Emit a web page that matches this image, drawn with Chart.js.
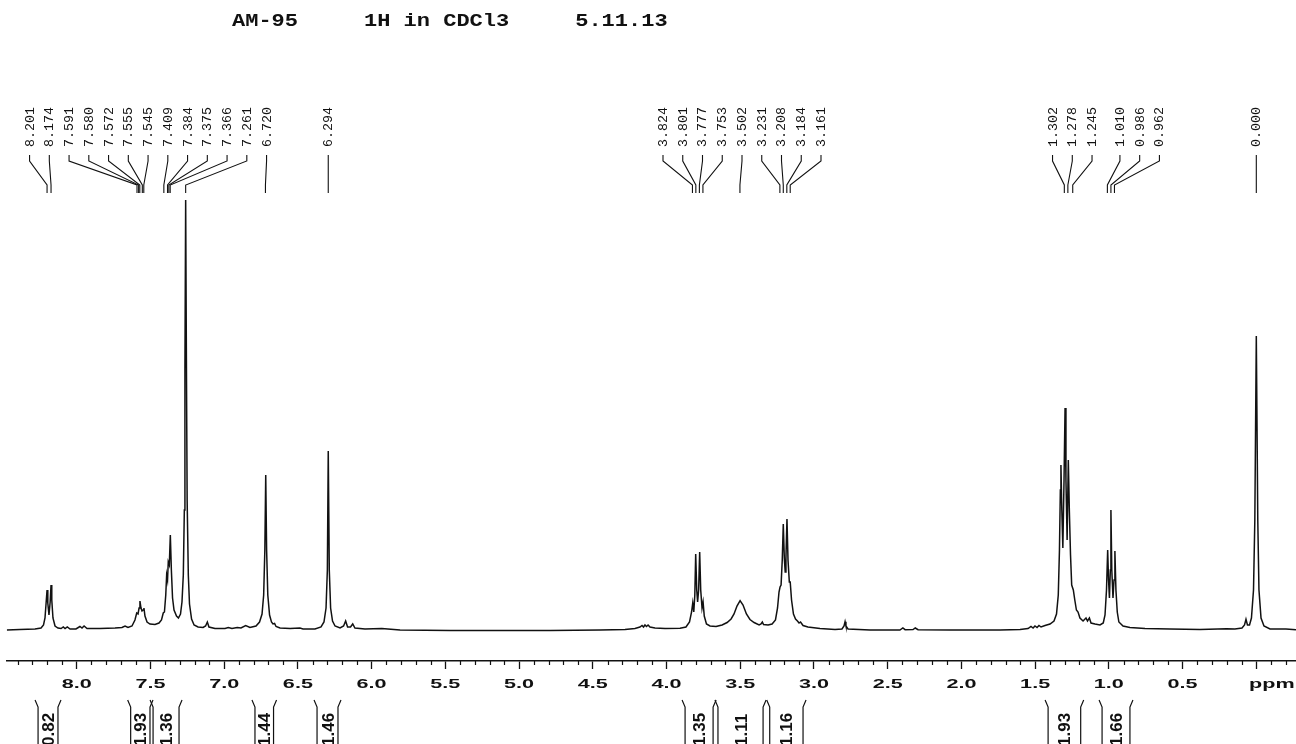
<!DOCTYPE html>
<html>
<head>
<meta charset="utf-8">
<title>AM-95 1H in CDCl3</title>
<script src="https://cdn.jsdelivr.net/npm/chart.js@4.4.1/dist/chart.umd.min.js"></script>
<style>
  html, body { margin: 0; padding: 0; background: #fff; }
  #wrap { width: 1296px; height: 744px; }
</style>
</head>
<body>
<div id="wrap"><canvas id="nmr" width="1296" height="744"></canvas></div>
<script>
// spectrum trace: chemical shift (ppm) and intensity
const shiftPpm = [
  8.473, 8.385, 8.283, 8.242, 8.225, 8.215, 8.207, 8.201, 8.196, 8.188, 8.180, 8.174, 8.169, 8.161, 8.147, 8.127,
  8.106, 8.091, 8.079, 8.064, 8.045, 8.005, 7.978, 7.964, 7.950, 7.930, 7.842, 7.740, 7.693, 7.672, 7.652, 7.625,
  7.605, 7.593, 7.584, 7.577, 7.571, 7.564, 7.557, 7.550, 7.544, 7.537, 7.523, 7.503, 7.469, 7.442, 7.425, 7.413,
  7.405, 7.396, 7.390, 7.384, 7.379, 7.372, 7.365, 7.358, 7.350, 7.340, 7.323, 7.310, 7.296, 7.286, 7.277, 7.270,
  7.266, 7.261, 7.256, 7.251, 7.243, 7.235, 7.221, 7.204, 7.177, 7.143, 7.126, 7.114, 7.103, 7.062, 6.994, 6.972,
  6.947, 6.911, 6.886, 6.854, 6.825, 6.784, 6.760, 6.743, 6.732, 6.724, 6.718, 6.712, 6.704, 6.692, 6.679, 6.669,
  6.658, 6.648, 6.621, 6.553, 6.486, 6.465, 6.384, 6.343, 6.323, 6.309, 6.300, 6.294, 6.287, 6.278, 6.265, 6.248,
  6.214, 6.190, 6.176, 6.163, 6.143, 6.128, 6.113, 6.045, 5.931, 5.807, 5.468, 5.129, 4.790, 4.451, 4.281, 4.214,
  4.180, 4.166, 4.156, 4.146, 4.136, 4.125, 4.112, 4.078, 4.010, 3.908, 3.868, 3.844, 3.830, 3.822, 3.815, 3.808,
  3.802, 3.795, 3.789, 3.782, 3.775, 3.768, 3.759, 3.752, 3.744, 3.729, 3.705, 3.664, 3.623, 3.589, 3.562, 3.542,
  3.522, 3.501, 3.481, 3.458, 3.434, 3.406, 3.372, 3.359, 3.350, 3.342, 3.311, 3.284, 3.261, 3.247, 3.237, 3.230,
  3.223, 3.215, 3.208, 3.201, 3.195, 3.190, 3.183, 3.176, 3.167, 3.161, 3.152, 3.139, 3.125, 3.112, 3.101, 3.091,
  3.074, 3.041, 2.959, 2.857, 2.810, 2.796, 2.789, 2.783, 2.769, 2.620, 2.417, 2.397, 2.382, 2.328, 2.313, 2.294,
  2.077, 1.738, 1.602, 1.548, 1.528, 1.514, 1.501, 1.487, 1.474, 1.460, 1.433, 1.399, 1.372, 1.355, 1.343, 1.335,
  1.329, 1.325, 1.319, 1.312, 1.304, 1.297, 1.291, 1.283, 1.275, 1.268, 1.260, 1.252, 1.241, 1.231, 1.220, 1.209,
  1.196, 1.175, 1.155, 1.145, 1.132, 1.121, 1.094, 1.060, 1.038, 1.026, 1.016, 1.008, 1.002, 0.996, 0.990, 0.986,
  0.980, 0.972, 0.965, 0.959, 0.952, 0.943, 0.932, 0.904, 0.857, 0.755, 0.586, 0.382, 0.201, 0.145, 0.097, 0.080,
  0.070, 0.060, 0.046, 0.033, 0.019, 0.010, 0.000, -0.010, -0.018, -0.032, -0.052, -0.093, -0.201, -0.269
];
const intensity = [
  0, 0.5, 1, 2, 5, 12, 28, 40, 27, 15, 28, 45, 30, 12, 4, 2,
  1.5, 3, 1.5, 3, 1, 1, 3.5, 2, 4, 1.5, 1.5, 2, 2.5, 4, 2.5, 4,
  10, 17, 16, 22, 29, 22, 19, 20, 22, 14, 8, 6, 5.5, 7, 10, 17,
  18, 35, 55, 50, 68, 65, 95, 60, 32, 20, 14, 12, 16, 28, 55, 120,
  260, 430, 270, 130, 55, 26, 11, 5, 3, 2.5, 4, 8, 3, 1.5, 1.5, 2.5,
  1.5, 2.5, 2, 4.5, 2.5, 4, 8, 16, 35, 80, 155, 80, 35, 15, 8, 6,
  6.5, 3.5, 2, 1.5, 2, 1, 1, 3, 8, 22, 60, 179, 60, 22, 9, 4,
  2, 4, 9, 3, 3, 6, 2, 1, 1.5, 0, -0.5, -0.5, -0.5, 0, 0.5, 1.5,
  3, 4.5, 3, 5, 3.5, 5, 3, 2, 1.5, 1.7, 3, 8, 18, 27, 18, 35,
  76, 40, 28, 40, 78, 40, 22, 28, 14, 6, 4, 3.5, 5, 7.5, 11, 16,
  24, 29.3, 25, 16, 10.5, 7.5, 5, 6, 8, 5.5, 5, 6, 10, 22, 38, 43,
  45, 70, 106, 72, 58, 72, 111, 70, 48, 48, 30, 16, 11, 9, 7, 8,
  4.5, 3, 1.5, 0.5, 1, 4, 8.3, 4, 1, 0, 0, 2, 0.3, 0.5, 2, 0.3,
  0, 0, 0.5, 1.5, 3.5, 2, 4, 2.5, 4.5, 3, 4.5, 6, 9, 16, 35, 80,
  140, 165, 120, 82, 150, 222, 150, 90, 170, 120, 75, 45, 40, 30, 20, 18,
  12, 9, 12, 9, 12, 7, 6, 5, 7, 15, 40, 80, 50, 32, 60, 120,
  60, 32, 50, 79, 40, 18, 8, 4, 2.5, 1.5, 1, 0.5, 1.2, 1, 2, 5,
  10.7, 5, 5, 12, 40, 110, 294, 110, 40, 12, 4, 1, 1, 0.3
];

// axis ticks
const majorTicks = [8.0, 7.5, 7.0, 6.5, 6.0, 5.5, 5.0, 4.5, 4.0, 3.5, 3.0, 2.5, 2.0, 1.5, 1.0, 0.5, 0.0];
const tickLabels = ['8.0', '7.5', '7.0', '6.5', '6.0', '5.5', '5.0', '4.5', '4.0', '3.5', '3.0', '2.5', '2.0', '1.5', '1.0', '0.5', ''];
const unitLabel = 'ppm';

// peak picking labels
const peakLabels = [
  8.201, 8.174, 7.591, 7.580, 7.572, 7.555, 7.545, 7.409, 7.384, 7.375, 7.366, 7.261, 6.720,
  6.294,
  3.824, 3.801, 3.777, 3.753, 3.502, 3.231, 3.208, 3.184, 3.161,
  1.302, 1.278, 1.245,
  1.010, 0.986, 0.962,
  0.000
];

// integrals
const integralFrom = [8.262, 7.634, 7.482, 6.791, 6.370, 3.874, 3.651, 3.300, 1.412, 1.046];
const integralTo = [8.127, 7.503, 7.306, 6.665, 6.228, 3.684, 3.345, 3.074, 1.191, 0.857];
const integralValues = ['0.82', '1.93', '1.36', '1.44', '1.46', '1.35', '1.11', '1.16', '1.93', '1.66'];

const titleText = 'AM-95     1H in CDCl3     5.11.13';

// layout of the label fans (group size and where each fan is centred, in ppm)
const labelFans = [
  { count: 13, centre: 7.516 },
  { count: 1, centre: 6.294 },
  { count: 9, centre: 3.488 },
  { count: 3, centre: 1.248 },
  { count: 3, centre: 0.791 },
  { count: 1, centre: 0.0 }
];
const LABEL_GAP = 19.75;
const INK = '#111';

/**
 * タイトル・ピークラベル・積分・目盛り文字を描くプラグイン
 */
const annotatePlugin = {
  id: 'annotate',
  afterDraw(chart) {
    const ctx = chart.ctx;
    const xs = chart.scales.x;
    const bottom = chart.chartArea.bottom;

    ctx.save();
    ctx.fillStyle = INK;
    ctx.strokeStyle = INK;

    // title
    ctx.save();
    ctx.font = 'bold 17.5px "Liberation Mono", "Courier New", monospace';
    ctx.textAlign = 'left';
    ctx.textBaseline = 'alphabetic';
    ctx.translate(232, 26);
    ctx.scale(1.257, 1);
    ctx.fillText(titleText, 0, 0);
    ctx.restore();

    // minor ticks every 0.1 ppm
    ctx.lineWidth = 1.2;
    ctx.beginPath();
    for (let i = -2; i <= 84; i++) {
      if (i % 5 === 0) continue;
      const px = Math.round(xs.getPixelForValue(i / 10)) + 0.5;
      ctx.moveTo(px, bottom);
      ctx.lineTo(px, bottom + 4);
    }
    ctx.stroke();

    // tick labels (wide bold face)
    ctx.font = 'bold 13.5px "Liberation Sans", Arial, sans-serif';
    ctx.textAlign = 'center';
    ctx.textBaseline = 'alphabetic';
    const drawWide = (text, px) => {
      ctx.save();
      ctx.translate(px, 688);
      ctx.scale(1.6, 1);
      ctx.fillText(text, 0, 0);
      ctx.restore();
    };
    majorTicks.forEach((v, i) => {
      if (tickLabels[i]) drawWide(tickLabels[i], xs.getPixelForValue(v));
    });
    drawWide(unitLabel, xs.getPixelForValue(-0.105));

    // peak labels with their leader lines
    ctx.font = '13.3px "Liberation Mono", "Courier New", monospace';
    ctx.textAlign = 'left';
    ctx.lineWidth = 1.1;
    let k = 0;
    labelFans.forEach(fan => {
      const cx = xs.getPixelForValue(fan.centre);
      for (let j = 0; j < fan.count; j++, k++) {
        const ppm = peakLabels[k];
        const lx = cx + (j - (fan.count - 1) / 2) * LABEL_GAP;
        const px = xs.getPixelForValue(ppm);
        ctx.save();
        ctx.translate(lx + 4, 147);
        ctx.rotate(-Math.PI / 2);
        ctx.fillText(ppm.toFixed(3), 0, 0);
        ctx.restore();
        ctx.beginPath();
        ctx.moveTo(lx, 155);
        ctx.lineTo(lx, 161);
        ctx.lineTo(px, 185);
        ctx.lineTo(px, 193);
        ctx.stroke();
      }
    });

    // integral brackets and values
    ctx.font = 'bold 17px "Liberation Sans", Arial, sans-serif';
    ctx.lineWidth = 1.2;
    integralValues.forEach((val, i) => {
      const xl = xs.getPixelForValue(integralFrom[i]);
      const xr = xs.getPixelForValue(integralTo[i]);
      ctx.beginPath();
      ctx.moveTo(xl - 3, 700);
      ctx.lineTo(xl, 707);
      ctx.lineTo(xl, 744);
      ctx.moveTo(xr + 3, 700);
      ctx.lineTo(xr, 707);
      ctx.lineTo(xr, 744);
      ctx.stroke();
      ctx.save();
      ctx.translate((xl + xr) / 2 + 6, 746);
      ctx.rotate(-Math.PI / 2);
      ctx.fillText(val, 0, 0);
      ctx.restore();
    });

    ctx.restore();
  }
};

function renderSpectrum() {
  const ctx = document.getElementById('nmr').getContext('2d');
  const points = shiftPpm.map((p, i) => ({ x: p, y: intensity[i] }));

  new Chart(ctx, {
    type: 'line',
    data: {
      datasets: [{
        data: points,
        borderColor: INK,
        borderWidth: 1.5,
        pointRadius: 0,
        tension: 0,
        fill: false,
        clip: false
      }]
    },
    options: {
      responsive: false,
      animation: false,
      layout: { padding: { left: 7, right: 0, top: 200, bottom: 0 } },
      scales: {
        x: {
          type: 'linear',
          reverse: true,
          min: -0.2692,
          max: 8.4727,
          afterBuildTicks: scale => { scale.ticks = majorTicks.map(v => ({ value: v })); },
          afterFit: scale => { scale.height = 83; },
          ticks: { display: false },
          grid: { display: true, drawOnChartArea: false, drawTicks: true, tickLength: 8, tickColor: INK, tickWidth: 1.3 },
          border: { display: true, color: INK, width: 1.5 }
        },
        y: { display: false, min: -31, max: 430 }
      },
      plugins: {
        legend: { display: false },
        tooltip: { enabled: false },
        title: { display: false }
      }
    },
    plugins: [annotatePlugin]
  });
}

renderSpectrum();
</script>
</body>
</html>
